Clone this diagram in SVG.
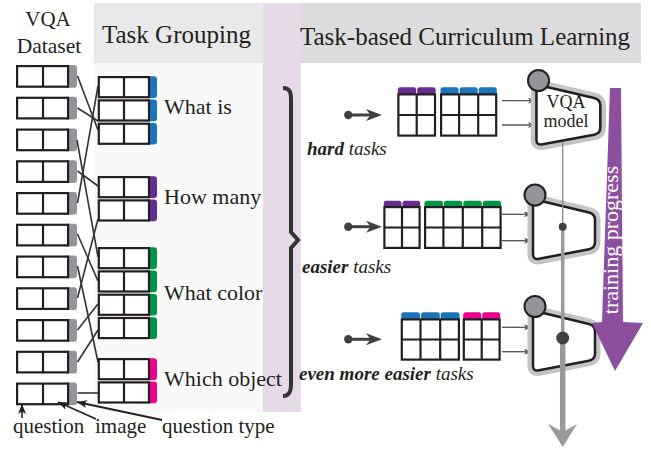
<svg xmlns="http://www.w3.org/2000/svg" xmlns:xlink="http://www.w3.org/1999/xlink" width="651" height="453" viewBox="0 0 651 453">
<style>
.t{font-family:"Liberation Serif","Times New Roman",serif;fill:#231f20}
.box{fill:#fff;stroke:#231f20;stroke-width:2.2}
.dv{stroke:#231f20;stroke-width:2.2}
.tg{fill:#939598}
.conn{stroke:#333;stroke-width:1.6;fill:none}
.thin{stroke:#555;stroke-width:1.3;fill:none}
.halo{fill:none;stroke:#c4c4c4;stroke-width:11;stroke-linejoin:round}
.body{fill:#fff;stroke:#231f20;stroke-width:2.5;stroke-linejoin:round}
.knob{fill:#939598;stroke:#231f20;stroke-width:2}
.blue{fill:#1b75bb}.purp{fill:#662d91}.green{fill:#009444}.mag{fill:#ec008c}
</style>
<defs>
<marker id="ah" viewBox="0 0 8 6" refX="8" refY="3" markerWidth="8" markerHeight="6" markerUnits="userSpaceOnUse" orient="auto"><path d="M0,0 L8,3 L0,6 L2,3 z" fill="#555"/></marker>
<marker id="bk" viewBox="0 0 10 8" refX="10" refY="4" markerWidth="10" markerHeight="8" markerUnits="userSpaceOnUse" orient="auto"><path d="M0,0 L10,4 L0,8 L2.5,4 z" fill="#231f20"/></marker>
<path id="ms" d="M-2,10 Q-2,4 4,5.5 L54,17.5 Q60,19 60,25 L60,47 Q60,53 54,54.2 L4,63.8 Q-2,65 -2,59 Z"/>
</defs>

<!-- backgrounds -->
<rect x="94" y="3" width="169" height="60" fill="#e9e9eb"/>
<rect x="94" y="63" width="169" height="349" fill="#f9f9f9"/>
<rect x="263" y="3" width="38" height="409" fill="#e6dae9"/>
<rect x="301" y="3" width="340" height="60" fill="#dcdcde"/>
<text class="t" x="102" y="43" font-size="25">Task Grouping</text>
<text class="t" x="300" y="45" font-size="25">Task-based Curriculum Learning</text>
<text class="t" x="48" y="26" font-size="21" text-anchor="middle">VQA</text>
<text class="t" x="49" y="53" font-size="21.5" text-anchor="middle">Dataset</text>

<!-- dataset boxes -->
<g id="dataset">
<g id="d1"><rect class="tg" x="64" y="65" width="13" height="22.8" rx="3"/><rect class="box" x="17.1" y="66.1" width="51" height="20.6"/><line class="dv" x1="43" y1="66" x2="43" y2="87"/></g>
<g id="d2"><rect class="tg" x="64" y="96.7" width="13" height="22.8" rx="3"/><rect class="box" x="17.1" y="97.8" width="51" height="20.6"/><line class="dv" x1="43" y1="97.7" x2="43" y2="118.7"/></g>
<g id="d3"><rect class="tg" x="64" y="128.5" width="13" height="22.8" rx="3"/><rect class="box" x="17.1" y="129.6" width="51" height="20.6"/><line class="dv" x1="43" y1="129.5" x2="43" y2="150.5"/></g>
<g id="d4"><rect class="tg" x="64" y="160.2" width="13" height="22.8" rx="3"/><rect class="box" x="17.1" y="161.3" width="51" height="20.6"/><line class="dv" x1="43" y1="161.2" x2="43" y2="182.2"/></g>
<g id="d5"><rect class="tg" x="64" y="192" width="13" height="22.8" rx="3"/><rect class="box" x="17.1" y="193.1" width="51" height="20.6"/><line class="dv" x1="43" y1="193" x2="43" y2="214"/></g>
<g id="d6"><rect class="tg" x="64" y="223.7" width="13" height="22.8" rx="3"/><rect class="box" x="17.1" y="224.8" width="51" height="20.6"/><line class="dv" x1="43" y1="224.7" x2="43" y2="245.7"/></g>
<g id="d7"><rect class="tg" x="64" y="255.5" width="13" height="22.8" rx="3"/><rect class="box" x="17.1" y="256.6" width="51" height="20.6"/><line class="dv" x1="43" y1="256.5" x2="43" y2="277.5"/></g>
<g id="d8"><rect class="tg" x="64" y="287.2" width="13" height="22.8" rx="3"/><rect class="box" x="17.1" y="288.3" width="51" height="20.6"/><line class="dv" x1="43" y1="288.2" x2="43" y2="309.2"/></g>
<g id="d9"><rect class="tg" x="64" y="319" width="13" height="22.8" rx="3"/><rect class="box" x="17.1" y="320.1" width="51" height="20.6"/><line class="dv" x1="43" y1="320" x2="43" y2="341"/></g>
<g id="d10"><rect class="tg" x="64" y="350.7" width="13" height="22.8" rx="3"/><rect class="box" x="17.1" y="351.8" width="51" height="20.6"/><line class="dv" x1="43" y1="351.7" x2="43" y2="372.7"/></g>
<g id="d11"><rect class="tg" x="64" y="382.5" width="13" height="22.8" rx="3"/><rect class="box" x="17.1" y="383.6" width="51" height="20.6"/><line class="dv" x1="43" y1="383.5" x2="43" y2="404.5"/></g>
</g>

<!-- connectors -->
<g id="connectors">
<line class="conn" x1="77.5" y1="76" x2="98" y2="130"/>
<line class="conn" x1="77.5" y1="108" x2="98" y2="121"/>
<line class="conn" x1="77" y1="140" x2="98" y2="257"/>
<line class="conn" x1="77.5" y1="171" x2="98" y2="186"/>
<line class="conn" x1="77.5" y1="203" x2="98" y2="86"/>
<line class="conn" x1="77.5" y1="234" x2="98" y2="281"/>
<line class="conn" x1="77.5" y1="266" x2="98" y2="362"/>
<line class="conn" x1="77.5" y1="298" x2="98" y2="219"/>
<line class="conn" x1="77.5" y1="330" x2="98" y2="304"/>
<line class="conn" x1="77.5" y1="362" x2="98" y2="330"/>
<line class="conn" x1="77.5" y1="393" x2="98" y2="393"/>
</g>

<!-- grouped tasks -->
<g id="g-whatis">
<rect class="blue" x="145" y="76.3" width="12" height="21.7" rx="3"/><rect class="box" x="98.8" y="77.1" width="50.2" height="20.1"/><line class="dv" x1="124" y1="77" x2="124" y2="97.3"/>
<rect class="blue" x="145" y="99.6" width="12" height="21.7" rx="3"/><rect class="box" x="98.8" y="100.4" width="50.2" height="20.1"/><line class="dv" x1="124" y1="100.3" x2="124" y2="120.6"/>
<rect class="blue" x="145" y="122.9" width="12" height="21.7" rx="3"/><rect class="box" x="98.8" y="123.7" width="50.2" height="20.1"/><line class="dv" x1="124" y1="123.6" x2="124" y2="143.9"/>
<text class="t" x="164" y="114" font-size="22">What is</text>
</g>
<g id="g-howmany">
<rect class="purp" x="145" y="176.3" width="12" height="21.7" rx="3"/><rect class="box" x="98.8" y="177.1" width="50.2" height="20.1"/><line class="dv" x1="124" y1="177" x2="124" y2="197.3"/>
<rect class="purp" x="145" y="199.6" width="12" height="21.7" rx="3"/><rect class="box" x="98.8" y="200.4" width="50.2" height="20.1"/><line class="dv" x1="124" y1="200.3" x2="124" y2="220.6"/>
<text class="t" x="164" y="204" font-size="22">How many</text>
</g>
<g id="g-whatcolor">
<rect class="green" x="145" y="247.3" width="12" height="21.7" rx="3"/><rect class="box" x="98.8" y="248.1" width="50.2" height="20.1"/><line class="dv" x1="124" y1="248" x2="124" y2="268.3"/>
<rect class="green" x="145" y="270.6" width="12" height="21.7" rx="3"/><rect class="box" x="98.8" y="271.4" width="50.2" height="20.1"/><line class="dv" x1="124" y1="271.3" x2="124" y2="291.6"/>
<rect class="green" x="145" y="293.9" width="12" height="21.7" rx="3"/><rect class="box" x="98.8" y="294.7" width="50.2" height="20.1"/><line class="dv" x1="124" y1="294.6" x2="124" y2="314.9"/>
<rect class="green" x="145" y="317.2" width="12" height="21.7" rx="3"/><rect class="box" x="98.8" y="318" width="50.2" height="20.1"/><line class="dv" x1="124" y1="317.9" x2="124" y2="338.2"/>
<text class="t" x="164" y="300" font-size="22">What color</text>
</g>
<g id="g-whichobject">
<rect class="mag" x="145" y="358.3" width="12" height="21.7" rx="3"/><rect class="box" x="98.8" y="359.1" width="50.2" height="20.1"/><line class="dv" x1="124" y1="359" x2="124" y2="379.3"/>
<rect class="mag" x="145" y="381.6" width="12" height="21.7" rx="3"/><rect class="box" x="98.8" y="382.4" width="50.2" height="20.1"/><line class="dv" x1="124" y1="382.3" x2="124" y2="402.6"/>
<text class="t" x="164" y="386" font-size="22">Which object</text>
</g>

<!-- annotations -->
<g id="annotations">
<line x1="22" y1="418" x2="22" y2="404" stroke="#231f20" stroke-width="1.6" marker-end="url(#bk)"/>
<line x1="96" y1="419" x2="58" y2="402" stroke="#231f20" stroke-width="1.6" marker-end="url(#bk)"/>
<line x1="162" y1="420" x2="77" y2="402" stroke="#231f20" stroke-width="2" marker-end="url(#bk)"/>
<text class="t" x="13" y="433" font-size="21">question</text>
<text class="t" x="95" y="433" font-size="21">image</text>
<text class="t" x="162" y="433" font-size="21">question type</text>
</g>

<!-- brace -->
<path id="brace" d="M283,88 C289,88 291,91 291,99 L291,232 L298,240 L291,248 L291,384 C291,392 289,396 283,396" fill="none" stroke="#333" stroke-width="4" stroke-linejoin="miter"/>

<!-- hard tasks -->
<g id="hard">
<circle cx="348.3" cy="115" r="4.2" fill="#404040"/><line x1="348" y1="115" x2="372" y2="115" stroke="#404040" stroke-width="3"/><polygon points="382,115 366,109 370.5,115 366,121" fill="#404040"/>
<rect class="purp" x="397.8" y="87.3" width="18.4" height="8" rx="2.5"/><rect class="purp" x="417.2" y="87.3" width="18.4" height="8" rx="2.5"/>
<rect class="blue" x="440.5" y="87.3" width="18.1" height="8" rx="2.5"/><rect class="blue" x="459.6" y="87.3" width="18.1" height="8" rx="2.5"/><rect class="blue" x="478.7" y="87.3" width="18.1" height="8" rx="2.5"/>
<rect class="box" x="398.4" y="94.4" width="36.6" height="41.2"/><line class="dv" x1="416.7" y1="94" x2="416.7" y2="136"/>
<rect class="box" x="441.1" y="94.4" width="55.1" height="41.2"/><line class="dv" x1="459.1" y1="94" x2="459.1" y2="136"/><line class="dv" x1="478.2" y1="94" x2="478.2" y2="136"/>
<line class="dv" x1="398" y1="115" x2="436" y2="115"/><line class="dv" x1="440" y1="115" x2="497" y2="115"/>
<line class="thin" x1="502" y1="100.7" x2="536" y2="100.7" marker-end="url(#ah)"/>
<line class="thin" x1="502" y1="125" x2="536" y2="125" marker-end="url(#ah)"/>
<text class="t" x="307" y="155" font-size="19" font-style="italic"><tspan font-weight="bold">hard</tspan> tasks</text>
</g>

<!-- easier tasks -->
<g id="easier">
<circle cx="348.3" cy="226.7" r="4.2" fill="#404040"/><line x1="348" y1="226.7" x2="372" y2="226.7" stroke="#404040" stroke-width="3"/><polygon points="382,226.7 366,220.7 370.5,226.7 366,232.7" fill="#404040"/>
<rect class="purp" x="383.8" y="200.7" width="17.7" height="8" rx="2.5"/><rect class="purp" x="402.5" y="200.7" width="17.7" height="8" rx="2.5"/>
<rect class="green" x="424.5" y="200.7" width="18.4" height="8" rx="2.5"/><rect class="green" x="443.9" y="200.7" width="18.4" height="8" rx="2.5"/><rect class="green" x="463.3" y="200.7" width="18.4" height="8" rx="2.5"/><rect class="green" x="482.7" y="200.7" width="18.4" height="8" rx="2.5"/>
<rect class="box" x="384.4" y="207.1" width="35.2" height="40.8"/><line class="dv" x1="402" y1="207" x2="402" y2="248"/>
<rect class="box" x="425.1" y="207.1" width="75.5" height="40.8"/><line class="dv" x1="443.4" y1="207" x2="443.4" y2="248"/><line class="dv" x1="462.8" y1="207" x2="462.8" y2="248"/><line class="dv" x1="482.2" y1="207" x2="482.2" y2="248"/>
<line class="dv" x1="384" y1="227.5" x2="420" y2="227.5"/><line class="dv" x1="425" y1="227.5" x2="501" y2="227.5"/>
<line class="thin" x1="502" y1="214.3" x2="532" y2="214.3" marker-end="url(#ah)"/>
<line class="thin" x1="502" y1="240.7" x2="532" y2="240.7" marker-end="url(#ah)"/>
<text class="t" x="302" y="272.5" font-size="19" font-style="italic"><tspan font-weight="bold">easier</tspan> tasks</text>
</g>

<!-- even more easier tasks -->
<g id="evenmore">
<circle cx="348.3" cy="339.3" r="4.2" fill="#404040"/><line x1="348" y1="339.3" x2="372" y2="339.3" stroke="#404040" stroke-width="3"/><polygon points="382,339.3 366,333.3 370.5,339.3 366,345.3" fill="#404040"/>
<rect class="blue" x="401.2" y="312.3" width="18.8" height="8" rx="2.5"/><rect class="blue" x="421" y="312.3" width="18.8" height="8" rx="2.5"/><rect class="blue" x="440.7" y="312.3" width="18.8" height="8" rx="2.5"/>
<rect class="mag" x="463.2" y="312.3" width="18" height="8" rx="2.5"/><rect class="mag" x="482.2" y="312.3" width="18" height="8" rx="2.5"/>
<rect class="box" x="401.8" y="319.4" width="57.1" height="40.2"/><line class="dv" x1="420.5" y1="319" x2="420.5" y2="360"/><line class="dv" x1="440.2" y1="319" x2="440.2" y2="360"/>
<rect class="box" x="463.8" y="319.4" width="35.8" height="40.2"/><line class="dv" x1="481.7" y1="319" x2="481.7" y2="360"/>
<line class="dv" x1="401" y1="339.5" x2="460" y2="339.5"/><line class="dv" x1="463" y1="339.5" x2="500" y2="339.5"/>
<line class="thin" x1="502" y1="327.3" x2="532" y2="327.3" marker-end="url(#ah)"/>
<line class="thin" x1="502" y1="351.7" x2="532" y2="351.7" marker-end="url(#ah)"/>
<text class="t" x="299" y="380" font-size="19" font-style="italic"><tspan font-weight="bold">even more easier</tspan> tasks</text>
</g>

<!-- models -->
<g id="model-hard" transform="translate(538.5,80.5)">
<use xlink:href="#ms" class="halo" transform="scale(1.03,1)"/>
<use xlink:href="#ms" class="body" transform="scale(1.03,1)"/>
<circle class="knob" cx="0" cy="0" r="10.5"/>
</g>
<g id="model-easier" transform="translate(535,195)">
<use xlink:href="#ms" class="halo"/>
<use xlink:href="#ms" class="body"/>
<circle class="knob" cx="0" cy="0" r="10.5"/>
</g>
<g id="model-even" transform="translate(535,306.5)">
<use xlink:href="#ms" class="halo"/>
<use xlink:href="#ms" class="body"/>
<circle class="knob" cx="0" cy="0" r="10.5"/>
</g>
<text class="t" x="566" y="107.5" font-size="18" text-anchor="middle">VQA</text>
<text class="t" x="566" y="127" font-size="18" text-anchor="middle">model</text>

<!-- model progression line -->
<g id="progression">
<line x1="562.7" y1="142" x2="562.7" y2="227" stroke="#8a8a8a" stroke-width="1.3"/>
<line x1="562.7" y1="227" x2="562.7" y2="338" stroke="#9a9a9a" stroke-width="3.5"/>
<line x1="562.7" y1="338" x2="562.7" y2="434" stroke="#9a9a9a" stroke-width="5.5"/>
<polygon points="548.3,424 562.7,447 577,424 562.7,432" fill="#9a9a9a"/>
<circle cx="562.7" cy="226.7" r="4" fill="#404040"/>
<circle cx="562.7" cy="338" r="6.5" fill="#404040"/>
</g>

<!-- training progress -->
<g id="training">
<polygon points="610,88 621,88 623,322 643,323 615,371 592,323 602,322" fill="#8c4f9f"/>
<text x="618" y="240" transform="rotate(-90 618 240)" font-family="Liberation Serif, serif" font-size="22" fill="#fff" text-anchor="middle">training progress</text>
</g>
</svg>
